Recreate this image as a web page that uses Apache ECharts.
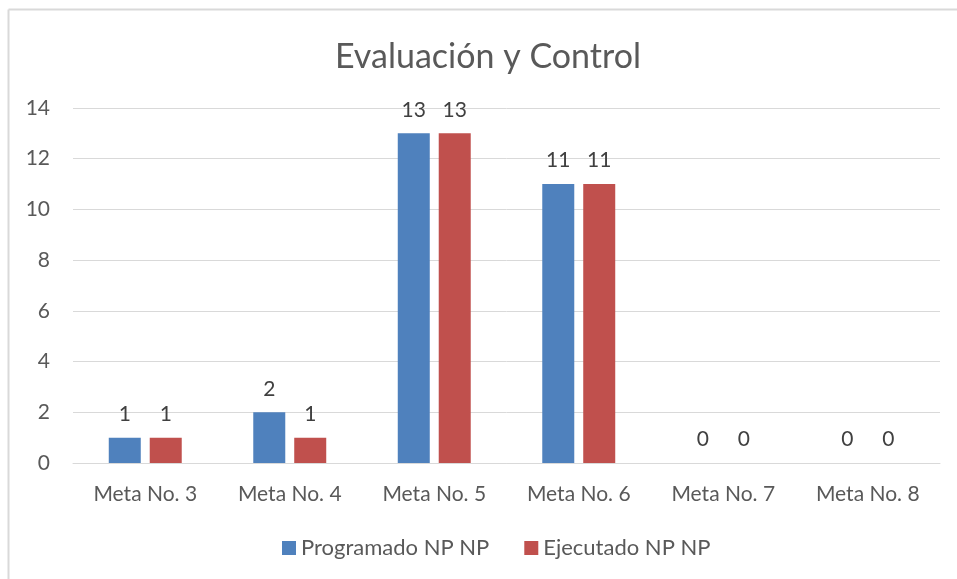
<!DOCTYPE html>
<html>
<head>
<meta charset="utf-8">
<script src="https://cdn.jsdelivr.net/npm/echarts@6/dist/echarts.min.js"></script>
<style>html,body{margin:0;padding:0;background:#fff}#c{width:957px;height:579px}</style>
</head>
<body>
<div id="c"></div>
<script>
const categories = ['Meta No. 3', 'Meta No. 4', 'Meta No. 5', 'Meta No. 6', 'Meta No. 7', 'Meta No. 8'];
const programado = [1, 2, 13, 11, 0, 0];
const ejecutado = [1, 1, 13, 11, 0, 0];
const seriesNames = ['Programado NP NP', 'Ejecutado NP NP'];
const titleText = 'Evaluación y Control';

const font = 'Lato, "Liberation Sans", sans-serif';
const chart = echarts.init(document.getElementById('c'), null, {renderer: 'canvas'});
const labelCfg = {show: true, position: 'top', distance: 13, color: '#404040', fontSize: 21, fontFamily: font};
chart.setOption({
  animation: false,
  backgroundColor: '#fff',
  title: {text: titleText, left: 330, top: 35, textStyle: {fontFamily: font, fontSize: 34, fontWeight: 'normal', color: '#595959'}},
  grid: {left: 73, right: 17, top: 108, bottom: 116},
  legend: {bottom: 15, left: 277, itemWidth: 14, itemHeight: 14, itemGap: 35, icon: 'rect',
    textStyle: {fontFamily: font, fontSize: 22, color: '#595959'}, data: seriesNames},
  xAxis: {type: 'category', data: categories,
    axisLine: {lineStyle: {color: '#d9d9d9', width: 1}}, axisTick: {show: false},
    axisLabel: {color: '#595959', fontSize: 21, fontFamily: font, margin: 21}},
  yAxis: {type: 'value', min: 0, max: 14, interval: 2,
    axisLine: {show: false}, axisTick: {show: false},
    splitLine: {lineStyle: {color: '#d9d9d9', width: 1}},
    axisLabel: {color: '#595959', fontSize: 21, fontFamily: font, margin: 23}},
  series: [
    {name: seriesNames[0], type: 'bar', data: programado, barGap: '28%', barCategoryGap: '49.5%',
      itemStyle: {color: '#4f81bd'}, label: labelCfg},
    {name: seriesNames[1], type: 'bar', data: ejecutado,
      itemStyle: {color: '#c0504d'}, label: labelCfg}
  ],
  graphic: [
    {type: 'line', shape: {x1: 8.5, y1: 9.5, x2: 957, y2: 9.5}, style: {stroke: '#d9d9d9', lineWidth: 2}},
    {type: 'line', shape: {x1: 8.5, y1: 9.5, x2: 8.5, y2: 579}, style: {stroke: '#d9d9d9', lineWidth: 2}}
  ]
});
</script>
</body>
</html>
